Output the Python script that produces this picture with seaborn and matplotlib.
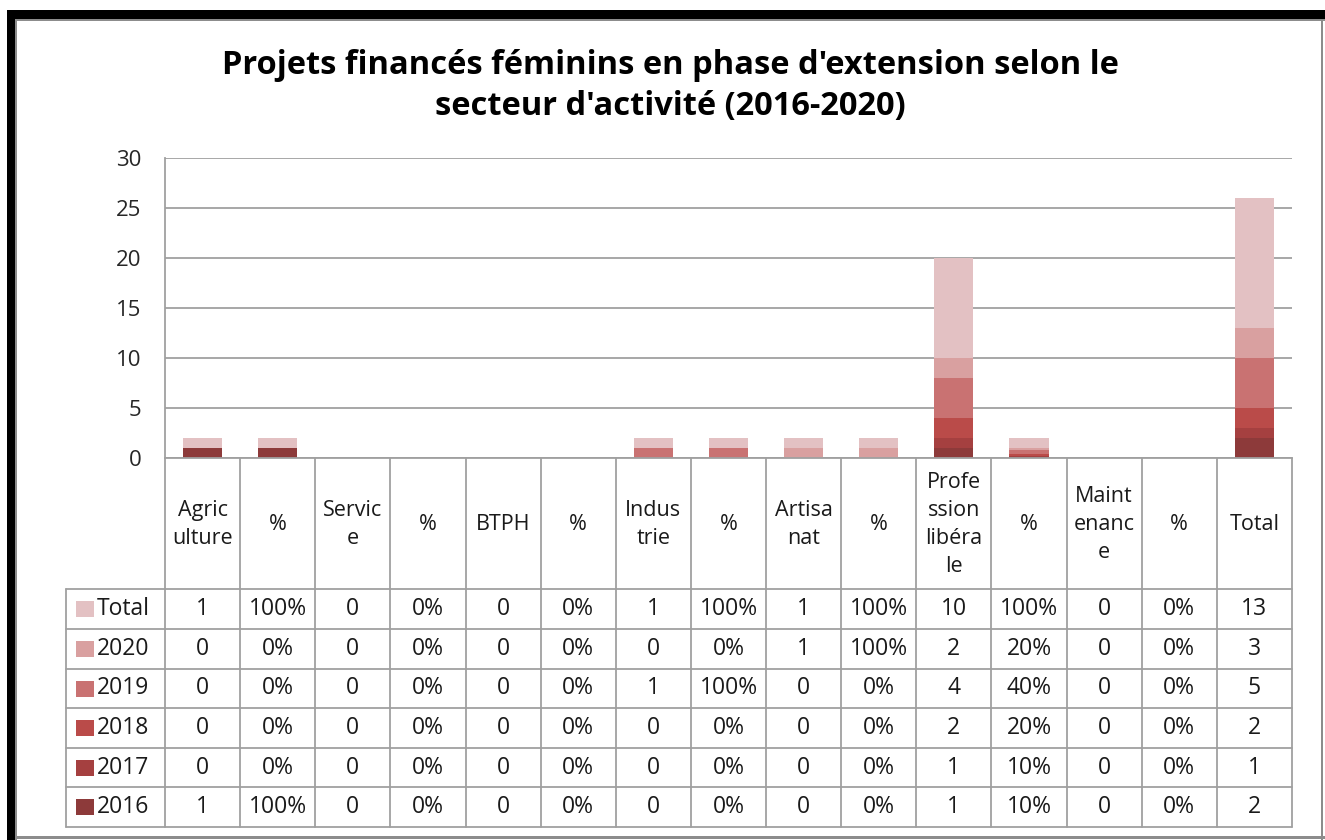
import pandas as pd
import seaborn as sns
import matplotlib.pyplot as plt
from matplotlib.patches import Rectangle

# columns of the chart (sector, then its % column), last one is the grand total
col_keys = ["Agriculture", "Agriculture %", "Service", "Service %", "BTPH", "BTPH %",
            "Industrie", "Industrie %", "Artisanat", "Artisanat %",
            "Profession libérale", "Profession libérale %", "Maintenance", "Maintenance %", "Total"]
col_labels = ["Agric\nulture", "%", "Servic\ne", "%", "BTPH", "%", "Indus\ntrie", "%",
              "Artisa\nnat", "%", "Profe\nssion\nlibéra\nle", "%", "Maint\nenanc\ne", "%", "Total"]

# series in stacking order (bottom -> top)
series = ["2016", "2017", "2018", "2019", "2020", "Total"]
v2016 = [1, 1.0, 0, 0, 0, 0, 0, 0, 0, 0, 1, 0.1, 0, 0, 2]
v2017 = [0, 0, 0, 0, 0, 0, 0, 0, 0, 0, 1, 0.1, 0, 0, 1]
v2018 = [0, 0, 0, 0, 0, 0, 0, 0, 0, 0, 2, 0.2, 0, 0, 2]
v2019 = [0, 0, 0, 0, 0, 0, 1, 1.0, 0, 0, 4, 0.4, 0, 0, 5]
v2020 = [0, 0, 0, 0, 0, 0, 0, 0, 1, 1.0, 2, 0.2, 0, 0, 3]
vtotal = [1, 1.0, 0, 0, 0, 0, 1, 1.0, 1, 1.0, 10, 1.0, 0, 0, 13]
values = [v2016, v2017, v2018, v2019, v2020, vtotal]
colors = ["#8D3A3A", "#A54040", "#BA4B49", "#C97272", "#D9A0A0", "#E3C1C3"]

sns.set_style("white")
plt.rcParams["font.family"] = ["Open Sans", "DejaVu Sans"]

W, H = 1325, 840
fig = plt.figure(figsize=(W / 100, H / 100), dpi=100)

# background canvas in pixel coordinates (frame + data table)
bg = fig.add_axes([0, 0, 1, 1])
bg.set_xlim(0, W)
bg.set_ylim(H, 0)
bg.axis("off")

# chart frame
bg.add_patch(Rectangle((7, 10), W - 7, 9, color="black", lw=0))
bg.add_patch(Rectangle((7, 10), 8, H - 10, color="black", lw=0))
bg.add_patch(Rectangle((15, 19), W - 15, 2, color="#8C8C8C", lw=0))
bg.add_patch(Rectangle((15, 19), 2, H - 19, color="#8C8C8C", lw=0))
bg.add_patch(Rectangle((1321, 21), 2, H - 21, color="#8C8C8C", lw=0))
bg.add_patch(Rectangle((15, 836), W - 15, 3, color="#8C8C8C", lw=0))

# plot area
left, right, top, bottom = 165, 1292, 158, 458
ax = fig.add_axes([left / W, 1 - bottom / H, (right - left) / W, (bottom - top) / H])

# stacked bars: draw cumulative heights from the top series down
cum = [0] * len(col_keys)
cums = []
for v in values:
    cum = [a + b for a, b in zip(cum, v)]
    cums.append(cum)
for i in reversed(range(len(series))):
    df = pd.DataFrame({"col": col_keys, "val": cums[i]})
    sns.barplot(data=df, x="col", y="val", order=col_keys, color=colors[i],
                saturation=1, width=0.52, linewidth=0, edgecolor="none", ax=ax)

ax.set_ylim(0, 30)
ax.set_xlim(-0.5, len(col_keys) - 0.5)
ax.set_yticks(range(0, 31, 5))
ax.yaxis.grid(True, color="#A0A0A0", lw=1.3)
ax.set_axisbelow(True)
ax.set_xticks([])
ax.set_xlabel("")
ax.set_ylabel("")
ax.tick_params(axis="y", length=0, pad=17, labelsize=16)
for s in ["top", "right"]:
    ax.spines[s].set_visible(False)
for s in ["left", "bottom"]:
    ax.spines[s].set_color("#A0A0A0")
    ax.spines[s].set_linewidth(1.3)

# data table
line_c = "#A0A0A0"
cw = (right - left) / len(col_keys)
row_edges = [458, 589, 629, 669, 708, 748, 787, 827]
for k in range(len(col_keys) + 1):
    bg.plot([left + k * cw] * 2, [458, 827], color=line_c, lw=1.3)
bg.plot([66, 66], [589, 827], color=line_c, lw=1.3)
for y in row_edges[1:]:
    bg.plot([66, right], [y, y], color=line_c, lw=1.3)

hy = (row_edges[0] + row_edges[1]) / 2
for k, lab in enumerate(col_labels):
    bg.text(left + (k + 0.5) * cw, hy + 1, lab, ha="center", va="center",
            fontsize=15.5, linespacing=1.42, color="#1A1A1A")

for r, i in enumerate(reversed(range(len(series)))):
    yc = (row_edges[r + 1] + row_edges[r + 2]) / 2
    bg.add_patch(Rectangle((76, yc - 8), 18, 16, color=colors[i], lw=0))
    bg.text(97, yc, series[i], ha="left", va="center", fontsize=16.5, color="#1A1A1A")
    for k, v in enumerate(values[i]):
        txt = f"{v * 100:.0f}%" if col_labels[k] == "%" else f"{v:.0f}"
        bg.text(left + (k + 0.5) * cw, yc, txt, ha="center", va="center",
                fontsize=16.5, color="#1A1A1A")

# title
bg.text(670, 86, "Projets financés féminins en phase d'extension selon le\nsecteur d'activité (2016-2020)",
        ha="center", va="center", fontsize=23.5, fontweight="bold", linespacing=1.32,
        color="black")

fig.savefig("out.png", dpi=100)
